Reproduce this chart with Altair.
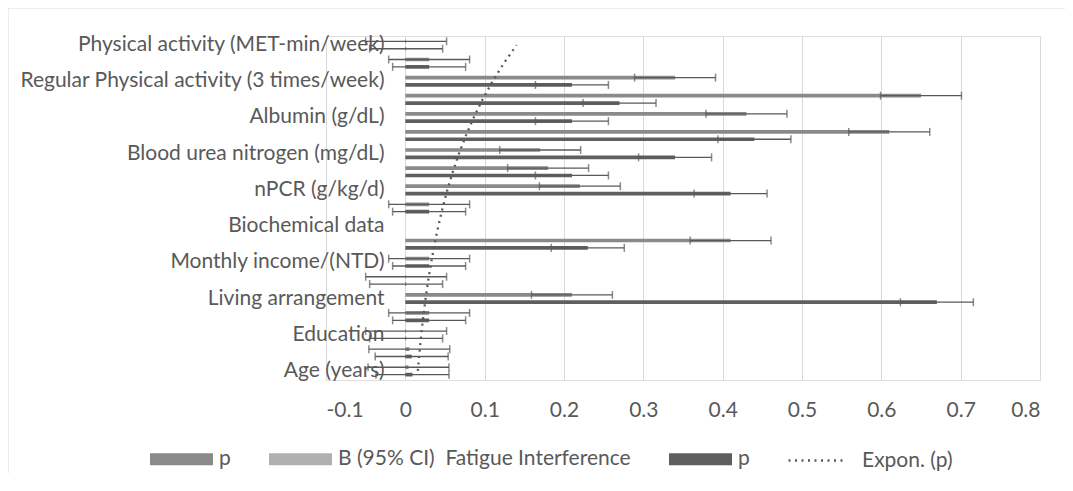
import altair as alt
import pandas as pd
import numpy as np

# Categories from bottom (k=1) to top (k=19); Excel shows every other label
categories = [
    "Age (years)", "Gender", "Education", "Marital status", "Living arrangement",
    "Employment", "Monthly income/(NTD)", "Comorbidity", "Biochemical data",
    "Hemoglobin (g/dL)", "nPCR (g/kg/d)", "Kt/V", "Blood urea nitrogen (mg/dL)",
    "Creatinine (mg/dL)", "Albumin (g/dL)", "Sedentary time",
    "Regular Physical activity (3 times/week)", "Exercise habit",
    "Physical activity (MET-min/week)",
]
shown_labels = [
    "Age (years)", "Education", "Living arrangement", "Monthly income/(NTD)",
    "Biochemical data", "nPCR (g/kg/d)", "Blood urea nitrogen (mg/dL)",
    "Albumin (g/dL)", "Regular Physical activity (3 times/week)",
    "Physical activity (MET-min/week)",
]
p_first = [0.004, 0.005, 0.001, 0.03, 0.21, 0.001, 0.03, 0.41, None, 0.03,
           0.22, 0.18, 0.17, 0.61, 0.43, 0.65, 0.34, 0.03, 0.001]
b_ci = [0, 0, 0, 0, 0, 0, 0, 0, None, 0, 0, 0, 0, 0, 0, 0, 0, 0, 0]
p_second = [0.009, 0.008, 0.001, 0.03, 0.67, 0.001, 0.03, 0.23, None, 0.03,
            0.41, 0.21, 0.34, 0.44, 0.21, 0.27, 0.21, 0.03, 0.001]
err_first = 0.051
err_second = 0.046
x_ticks = [-0.1, 0, 0.1, 0.2, 0.3, 0.4, 0.5, 0.6, 0.7, 0.8]
series_order = ["p1", "B", "p2"]
series_colors = ["#8a8a8a", "#b0b0b0", "#5f5f5f"]

rows = []
for i, c in enumerate(categories):
    for s, vals, err in (("p1", p_first, err_first), ("B", b_ci, None), ("p2", p_second, err_second)):
        v = vals[i]
        rows.append({
            "cat": c, "k": i + 1, "series": s, "value": v,
            "lo": (v - err) if (v is not None and err is not None) else None,
            "hi": (v + err) if (v is not None and err is not None) else None,
        })
df = pd.DataFrame(rows)
err_df = df.dropna(subset=["lo"])

# Exponential trendline (Excel style: least squares on ln(y)) of the second p series
kk = np.array([i + 1 for i, v in enumerate(p_second) if v is not None and v > 0])
lv = np.log([v for v in p_second if v is not None and v > 0])
slope, intercept = np.polyfit(kk, lv, 1)
ks = np.arange(1, len(categories) + 1)
trend_df = pd.DataFrame({
    "cat": categories, "k": ks,
    "trend": np.exp(intercept + slope * ks),
    "tname": "Expon. (p)",
})

FONT = "Lato"
FS = 21
TXT = "#595959"
y_order = list(reversed(categories))
label_list = ",".join("'" + s + "'" for s in shown_labels)

y_enc = alt.Y(
    "cat:N", sort=y_order,
    scale=alt.Scale(paddingInner=0.39, paddingOuter=0.195),
    axis=alt.Axis(title=None, domain=False, ticks=False, grid=False,
                  labelExpr=f"indexof([{label_list}], datum.value) >= 0 ? datum.label : ''",
                  labelFont=FONT, labelFontSize=FS, labelColor=TXT,
                  labelPadding=21, offset=-79, labelLimit=600),
)
x_scale = alt.Scale(domain=[-0.1, 0.8], nice=False, zero=False)
x_axis = alt.Axis(title=None, values=x_ticks, domain=False, ticks=False, grid=True,
                  gridColor="#d9d9d9", gridWidth=1, format=".1~f",
                  labelExpr="replace(datum.label, '\u2212', '-')",
                  labelFont=FONT, labelFontSize=FS, labelColor=TXT, labelPadding=19)
y_off = alt.YOffset("series:N", sort=series_order,
                    scale=alt.Scale(domain=series_order, paddingInner=0, paddingOuter=0))

bars = alt.Chart(df).mark_bar().encode(
    y=y_enc, yOffset=y_off,
    x=alt.X("value:Q", scale=x_scale, axis=x_axis),
    x2=alt.X2(datum=0),
    color=alt.Color(
        "series:N",
        scale=alt.Scale(domain=series_order, range=series_colors),
        legend=alt.Legend(
            title=None, orient="none", legendX=-176, legendY=391.5, direction="horizontal",
            symbolType="M-1,-0.19H1V0.19H-1Z", symbolSize=3969, symbolStrokeWidth=0,
            labelFont=FONT, labelFontSize=FS, labelColor=TXT, labelOffset=6,
            columnPadding=38, labelLimit=600,
            labelExpr="datum.value == 'B' ? 'B (95% CI)\u00a0 Fatigue Interference' : 'p'",
        ),
    ),
)

err_rule = alt.Chart(err_df).mark_rule(color="#595959", strokeWidth=1.3).encode(
    y=y_enc, yOffset=y_off,
    x=alt.X("lo:Q", scale=x_scale, axis=x_axis), x2="hi:Q",
)
err_caps = alt.Chart(err_df).transform_fold(["lo", "hi"], as_=["end", "pos"]).mark_tick(
    color="#595959", size=8, thickness=1.5
).encode(
    y=y_enc, yOffset=y_off,
    x=alt.X("pos:Q", scale=x_scale, axis=x_axis),
)

trend = alt.Chart(trend_df).mark_line(strokeWidth=2.3, strokeCap="butt", color="#595959").encode(
    y=y_enc,
    x=alt.X("trend:Q", scale=x_scale, axis=x_axis),
    order="k:Q",
    strokeDash=alt.StrokeDash(
        "tname:N", scale=alt.Scale(domain=["Expon. (p)"], range=[[2, 4.5]]),
        legend=alt.Legend(
            title=None, orient="none", legendX=461, legendY=395.5,
            symbolType="stroke", symbolSize=3025, symbolStrokeWidth=2.3,
            symbolStrokeColor="#595959",
            labelFont=FONT, labelFontSize=FS, labelColor=TXT, labelOffset=17, labelLimit=300,
        ),
    ),
)

# chart-area border (top and left edges visible in the reference)
frame_top = alt.Chart(pd.DataFrame({"a": [0]})).mark_rule(color="#d9d9d9", strokeWidth=1).encode(
    x=alt.value(-318), x2=alt.value(739), y=alt.value(-28)
)
frame_left = alt.Chart(pd.DataFrame({"a": [0]})).mark_rule(color="#d9d9d9", strokeWidth=1).encode(
    x=alt.value(-318), y=alt.value(-28), y2=alt.value(437)
)

chart = alt.layer(frame_top, frame_left, bars, err_rule, err_caps, trend).properties(
    width=714, height=344,
    padding={"left": 318, "top": 28, "right": 25, "bottom": 93},
    autosize=alt.AutoSizeParams(type="none"),
).configure_view(stroke=None).configure(background="white")

chart.save("out.html", embed_options={"renderer": "svg", "actions": False})
